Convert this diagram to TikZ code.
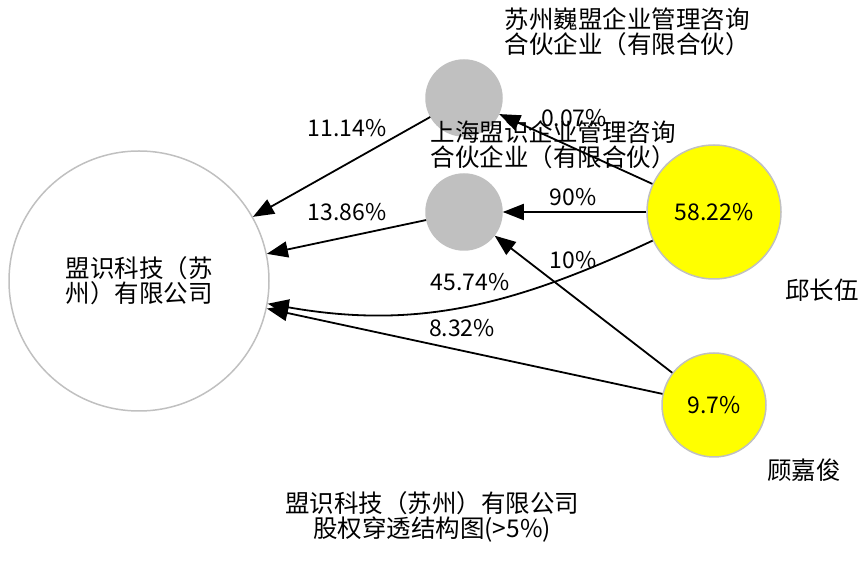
\documentclass[tikz,border=0pt]{standalone}
\usepackage{fontspec}
\setmainfont{Noto Sans CJK SC}
\usetikzlibrary{arrows.meta}
\definecolor{nodegray}{HTML}{C0C0C0}
\definecolor{holder}{HTML}{FFFF00}

\begin{document}
\begin{tikzpicture}[%
        x=1pt, y=1pt,
        font=\fontsize{24.5}{25}\selectfont,
        company/.style={circle, draw=nodegray, line width=1.5pt, inner sep=0pt},
        partner/.style={company, fill=nodegray, minimum size=76pt},
        person/.style={company, fill=holder, font=\fontsize{23}{25}\selectfont},
        caption/.style={align=center, inner sep=0pt},
        share/.style={-{Triangle[length=21pt,width=16pt]}, line width=1.8pt},
        pct/.style={inner sep=0pt, font=\fontsize{23}{25}\selectfont}
        ]
    \useasboundingbox (0,0) rectangle (868,565);
    % nodes
    \node[company, minimum size=260pt, align=center] (msks) at (139,284) {盟识科技（苏\\州）有限公司};
    \node[partner] (wm) at (464,467) {};
    \node[partner] (shms) at (464,353) {};
    \node[person, minimum size=134pt] (qcw) at (714,353) {58.22\%};
    \node[person, minimum size=104pt] (gjj) at (714,160) {9.7\%};
    % names
    \node[caption] (wmname) at (627,533) {苏州巍盟企业管理咨询\\合伙企业（有限合伙）};
    \node[caption] (shmsname) at (553,420) {上海盟识企业管理咨询\\合伙企业（有限合伙）};
    \node[caption] (qcwname) at (822,275) {邱长伍};
    \node[caption] (gjjname) at (804,95) {顾嘉俊};
    \node[caption] (title) at (432,48) {盟识科技（苏州）有限公司\\股权穿透结构图(>5\%)};
    % shares
    \draw[share] (wm) -- (msks);
    \draw[share] (shms) -- (msks);
    \draw[share] (qcw) to[out=205, in=350] (msks);
    \draw[share] (gjj) -- (msks);
    \draw[share] (qcw) -- (wm);
    \draw[share] (qcw) -- (shms);
    \draw[share] (gjj) -- (shms);
    \node[pct] (p1) at (347,437) {11.14\%};
    \node[pct] (p2) at (347,353) {13.86\%};
    \node[pct] (p3) at (470,283) {45.74\%};
    \node[pct] (p4) at (462,237) {8.32\%};
    \node[pct] (p5) at (574,447) {0.07\%};
    \node[pct] (p6) at (573,368) {90\%};
    \node[pct] (p7) at (573,305) {10\%};
\end{tikzpicture}
\end{document}
